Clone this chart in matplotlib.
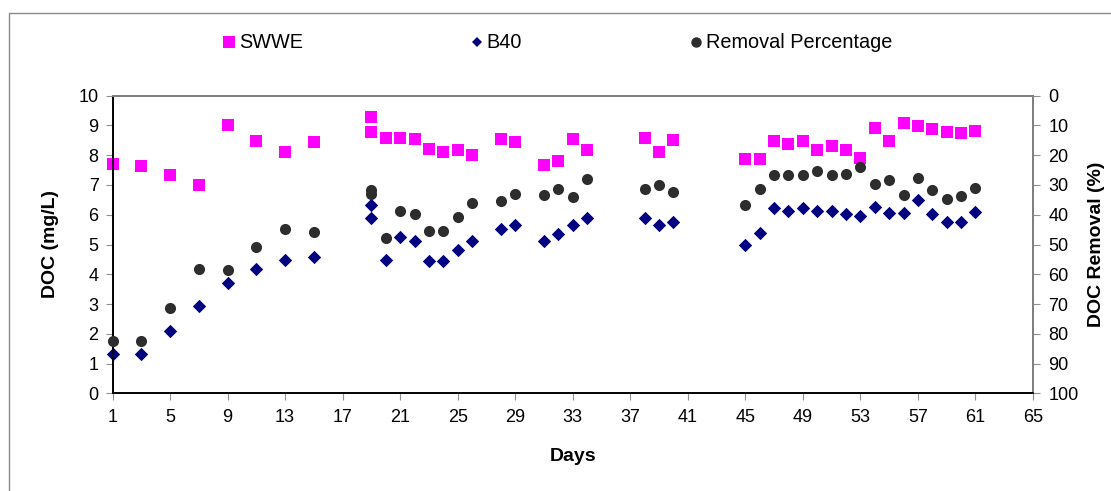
import numpy as np
import matplotlib
matplotlib.use("Agg")
import matplotlib.pyplot as plt
from matplotlib.lines import Line2D
from matplotlib.patches import Rectangle


# =========================================================
# DATA
# =========================================================

days = [1, 3, 5, 7, 9, 11, 13, 15, 19, 19, 20, 21, 22, 23, 24, 25, 26, 28, 29,
        31, 32, 33, 34, 38, 39, 40, 45, 46, 47, 48, 49, 50, 51, 52, 53, 54, 55,
        56, 57, 58, 59, 60, 61]

swwe = [7.72, 7.65, 7.35, 7.0, 9.0, 8.48, 8.1, 8.45, 9.28, 8.78, 8.58, 8.58,
        8.54, 8.21, 8.11, 8.16, 8.0, 8.53, 8.43, 7.68, 7.80, 8.54, 8.18, 8.57,
        8.11, 8.51, 7.88, 7.88, 8.48, 8.38, 8.48, 8.19, 8.31, 8.18, 7.90, 8.91,
        8.47, 9.09, 8.99, 8.87, 8.78, 8.74, 8.81]

b40 = [1.33, 1.33, 2.10, 2.92, 3.72, 4.17, 4.47, 4.59, 6.32, 5.89, 4.47, 5.25,
       5.13, 4.45, 4.43, 4.80, 5.12, 5.53, 5.64, 5.13, 5.34, 5.64, 5.89, 5.89,
       5.67, 5.75, 4.99, 5.39, 6.21, 6.12, 6.22, 6.12, 6.12, 6.02, 5.97, 6.26,
       6.06, 6.06, 6.50, 6.04, 5.75, 5.77, 6.08]

removal = [82.4, 82.4, 71.5, 58.4, 58.7, 50.7, 44.7, 45.9, 31.8, 32.9, 47.7,
           38.9, 39.8, 45.5, 45.3, 40.9, 36.0, 35.3, 33.0, 33.2, 31.4, 34.0,
           27.9, 31.2, 30.0, 32.3, 36.6, 31.4, 26.8, 26.8, 26.7, 25.4, 26.5,
           26.2, 24.0, 29.6, 28.4, 33.4, 27.7, 31.7, 34.6, 33.8, 30.9]

x_ticks = list(range(1, 66, 4))
doc_ticks = list(range(0, 11))
pct_ticks = list(range(0, 101, 10))


# =========================================================
# STYLE
# =========================================================

plt.rcParams["font.family"] = ["Liberation Sans", "DejaVu Sans"]
plt.rcParams["font.size"] = 13

C_SWWE = "#FF00FF"
C_B40 = "#000080"
C_REM = "#2d2d2d"


# =========================================================
# PLOT
# =========================================================

fig = plt.figure(figsize=(11.11, 4.91), dpi=100)

# chart border (Excel style, cropped on right / bottom)
fig.patches.append(Rectangle((9 / 1111, -0.1), 1.2, 1 - 13 / 491 + 0.1,
                             transform=fig.transFigure, fill=False,
                             edgecolor="#8a8a8a", linewidth=1.0))

ax = fig.add_axes([112.5 / 1111, 1 - 393.3 / 491, (1033 - 112.5) / 1111,
                   (393.3 - 95.7) / 491])
ax2 = ax.twinx()

ax.scatter(days, swwe, marker="s", s=8.0 ** 2, color=C_SWWE, linewidths=0,
           clip_on=False, zorder=3)
ax.scatter(days, b40, marker="D", s=6.8 ** 2, color=C_B40, linewidths=0,
           clip_on=False, zorder=3)
ax2.scatter(days, removal, marker="o", s=8.0 ** 2, color=C_REM, linewidths=0,
            clip_on=False, zorder=3)

ax.set_xlim(1, 65)
ax.set_ylim(0, 10)
ax.set_xticks(x_ticks)
ax.set_yticks(doc_ticks)

ax2.set_ylim(100, 0)
ax2.set_yticks(pct_ticks)

ax.set_xlabel("Days", fontweight="bold", fontsize=14, labelpad=16)
ax.set_ylabel("DOC (mg/L)", fontweight="bold", fontsize=14, labelpad=14)
ax2.set_ylabel("DOC Removal (%)", fontweight="bold", fontsize=14, labelpad=7)

for a in (ax, ax2):
    a.spines["top"].set_color("#808080")
    a.spines["right"].set_color("#808080")
    a.spines["left"].set_color("black")
    a.spines["bottom"].set_color("black")
    a.spines["top"].set_linewidth(1.4)
    a.spines["right"].set_linewidth(1.4)
    a.spines["left"].set_linewidth(1.2)
    a.spines["bottom"].set_linewidth(1.2)

ax.tick_params(axis="both", direction="out", length=5, width=0.8,
               color="#909090", labelsize=13, labelcolor="black")
ax.tick_params(axis="x", pad=6)
ax.tick_params(axis="y", pad=5)
ax2.tick_params(axis="y", direction="out", length=5, width=0.8,
                color="#909090", labelsize=13, labelcolor="black", pad=6)


# =========================================================
# LEGEND
# =========================================================

handles = [
    Line2D([], [], linestyle="none", marker="s", markersize=8,
           markerfacecolor=C_SWWE, markeredgewidth=0),
    Line2D([], [], linestyle="none", marker="D", markersize=5.5,
           markerfacecolor=C_B40, markeredgewidth=0),
    Line2D([], [], linestyle="none", marker="o", markersize=7.5,
           markerfacecolor=C_REM, markeredgewidth=0),
]
labels = ["SWWE", "B40", "Removal Percentage"]

fig.legend(handles, labels, ncol=3, frameon=False, loc="center",
           bbox_to_anchor=(558 / 1111, 1 - 43 / 491), fontsize=14.3,
           handlelength=0.55, handletextpad=0.2, columnspacing=8.5)

fig.savefig("out.png", dpi=100)
print("✅ Done")
